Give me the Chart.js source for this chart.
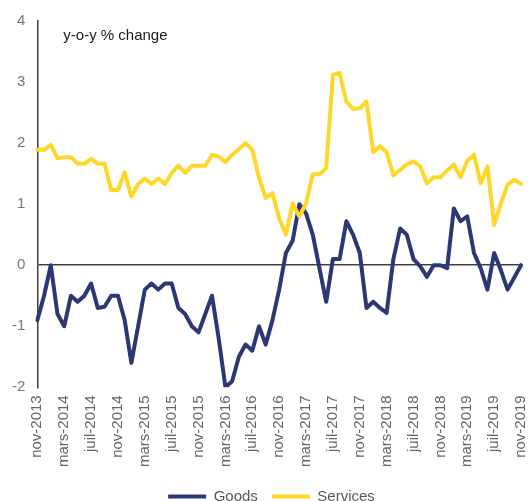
<!DOCTYPE html>
<html>
<head>
<meta charset="utf-8">
<script src="https://cdn.jsdelivr.net/npm/chart.js@4.4.0/dist/chart.umd.min.js"></script>
<style>
	html, body { margin: 0; padding: 0; background: #fff; }
	#wrap { width: 529px; height: 501px; position: relative; }
</style>
</head>
<body>
<div id="wrap"><canvas id="myChart"></canvas></div>
<script>
	// month names (French, as on the axis), series starts nov-2013
	var monthNames = ["janv", "févr", "mars", "avr", "mai", "juin", "juil", "août", "sept", "oct", "nov", "déc"];
	var startMonth = 10, startYear = 2013, nMonths = 73;

	var labels = [];
	for (var i = 0; i < nMonths; i++) {
		var m = (startMonth + i) % 12;
		var y = startYear + Math.floor((startMonth + i) / 12);
		labels.push(monthNames[m] + "-" + y);
	}

	var goods = [
		-0.9, -0.5, 0.0, -0.8, -1.0, -0.5, -0.6, -0.5, -0.3, -0.7, -0.68, -0.5,
		-0.5, -0.9, -1.6, -1.0, -0.4, -0.3, -0.4, -0.3, -0.3, -0.7, -0.8, -1.0,
		-1.1, -0.8, -0.5, -1.2, -2.0, -1.9, -1.5, -1.3, -1.4, -1.0, -1.3, -0.9,
		-0.4, 0.2, 0.4, 1.0, 0.85, 0.5, -0.05, -0.6, 0.1, 0.1, 0.72, 0.5,
		0.2, -0.7, -0.6, -0.7, -0.78, 0.1, 0.6, 0.5, 0.1, -0.02, -0.19, 0.0,
		0.0, -0.05, 0.93, 0.72, 0.8, 0.2, -0.05, -0.4, 0.2, -0.08, -0.4, -0.2,
		0.0
	];

	var services = [
		1.89, 1.89, 1.97, 1.75, 1.77, 1.77, 1.66, 1.66, 1.74, 1.66, 1.66, 1.23,
		1.23, 1.52, 1.12, 1.33, 1.42, 1.33, 1.42, 1.33, 1.51, 1.63, 1.51, 1.63,
		1.63, 1.63, 1.81, 1.78, 1.69, 1.81, 1.9, 2.0, 1.89, 1.43, 1.1, 1.18,
		0.77, 0.5, 1.01, 0.8, 1.01, 1.49, 1.49, 1.59, 3.12, 3.15, 2.68, 2.56,
		2.57, 2.68, 1.85, 1.95, 1.85, 1.47, 1.56, 1.65, 1.7, 1.62, 1.34, 1.44,
		1.44, 1.55, 1.65, 1.44, 1.71, 1.81, 1.34, 1.62, 0.66, 1.01, 1.32, 1.4,
		1.33
	];

	var yTicks = [-2, -1, 0, 1, 2, 3, 4];

	var fontFamily = '"Liberation Sans", Arial, sans-serif';
	var navy = "#2c3873";
	var yellow = "#ffd729";

	// "y-o-y % change" note inside the plot
	var notePlugin = {
		id: "yoyNote",
		afterLayout: function(chart) {
			// legend sits a bit right of centre in the original
			if (chart.legend) {
				chart.legend.left += 11;
				chart.legend.right += 11;
			}
		},
		afterDraw: function(chart) {
			var c = chart.ctx;
			c.save();
			c.font = "15px " + fontFamily;
			c.fillStyle = "#1a1a1a";
			c.textBaseline = "middle";
			c.fillText("y-o-y % change", chart.chartArea.left + 26, chart.chartArea.top + 15);
			c.restore();
		}
	};

	var ctx = document.getElementById("myChart");

	var myLineChart = new Chart(ctx, {
		type: "line",
		data: {
			labels: labels,
			datasets: [
				{
					label: "Goods",
					data: goods,
					borderColor: navy,
					backgroundColor: navy,
					borderWidth: 4,
					pointRadius: 0,
					tension: 0,
					borderJoinStyle: "round",
					borderCapStyle: "round",
					order: 1
				},
				{
					label: "Services",
					data: services,
					borderColor: yellow,
					backgroundColor: yellow,
					borderWidth: 4,
					pointRadius: 0,
					tension: 0,
					borderJoinStyle: "round",
					borderCapStyle: "round",
					order: 0
				}
			]
		},
		options: {
			responsive: true,
			maintainAspectRatio: false,
			animation: false,
			layout: { padding: { left: 0, right: 8, top: 12, bottom: -13 } },
			plugins: {
				tooltip: { enabled: false },
				legend: {
					position: "bottom",
					labels: {
						usePointStyle: true,
						pointStyle: "line",
						pointStyleWidth: 38,
						color: "#595959",
						font: { family: fontFamily, size: 15 },
						padding: 14,
						sort: function(a, b) { return a.datasetIndex - b.datasetIndex; }
					}
				}
			},
			scales: {
				x: {
					grid: { display: false, drawTicks: false },
					border: { display: false },
					afterFit: function(scale) {
						// rotated labels should not push the plot edges inward
						scale.paddingLeft = 0;
						scale.paddingRight = 0;
					},
					ticks: {
						autoSkip: false,
						maxRotation: 90,
						minRotation: 90,
						padding: 8,
						color: "#666",
						font: { family: fontFamily, size: 15 },
						callback: function(val, idx) {
							return idx % 4 === 0 ? this.getLabelForValue(val) : "";
						}
					}
				},
				y: {
					min: yTicks[0],
					max: yTicks[yTicks.length - 1],
					afterBuildTicks: function(axis) {
						axis.ticks = yTicks.map(function(v) { return { value: v }; });
					},
					grid: {
						drawTicks: false,
						lineWidth: 1.5,
						color: function(c) { return c.tick && c.tick.value === 0 ? "#404040" : "rgba(0,0,0,0)"; }
					},
					border: { display: true, color: "#404040", width: 1.5 },
					ticks: {
						padding: 12,
						color: "#777",
						font: { family: fontFamily, size: 15 }
					}
				}
			}
		},
		plugins: [notePlugin]
	});
</script>
</body>
</html>
